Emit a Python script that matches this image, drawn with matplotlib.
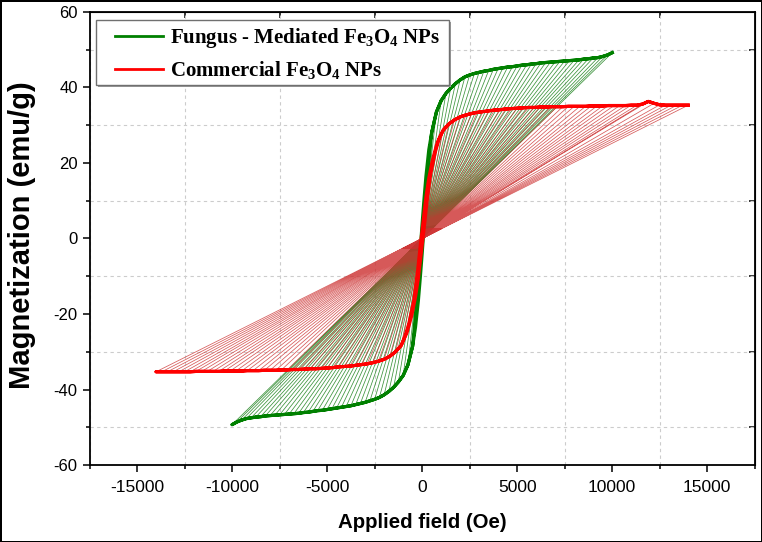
import numpy as np
import matplotlib
matplotlib.use("Agg")
import matplotlib.pyplot as plt
from matplotlib.ticker import MultipleLocator
from matplotlib.patches import Rectangle
from matplotlib.lines import Line2D

plt.rcParams['font.family'] = ['Liberation Sans', 'DejaVu Sans']
plt.rcParams['axes.unicode_minus'] = False
plt.rcParams['mathtext.fontset'] = 'custom'
plt.rcParams['mathtext.rm'] = 'Liberation Serif:bold'
plt.rcParams['mathtext.it'] = 'Liberation Serif:bold'
plt.rcParams['mathtext.bf'] = 'Liberation Serif:bold'
plt.rcParams['mathtext.default'] = 'rm'

# ---------------- data ----------------
# Fungus-mediated Fe3O4: high-field branch points (H in Oe, M in emu/g)
G_UP_H = [10000, 9750, 9500, 9250, 9000, 8750, 8500, 8250, 8000, 7750, 7500, 7250,
          7000, 6750, 6500, 6250, 6000, 5750, 5500, 5250, 5000, 4750, 4500, 4250,
          4000, 3750, 3500, 3250, 3000, 2750, 2500, 2250, 2000, 1750, 1500, 1250,
          1000, 750, 500]
G_UP_M = [49.2, 48.6, 48.2, 47.9, 47.8, 47.6, 47.5, 47.3, 47.2, 47.1, 47.0, 46.9,
          46.8, 46.7, 46.6, 46.5, 46.3, 46.2, 46.0, 45.9, 45.7, 45.5, 45.4, 45.2,
          45.0, 44.8, 44.5, 44.3, 44.0, 43.7, 43.3, 42.8, 42.0, 41.0, 39.8, 38.4,
          36.5, 33.5, 28.0]
G_LO_H = [-10000, -9750, -9500, -9250, -9000, -8750, -8500, -8250, -8000, -7750, -7500, -7250,
          -7000, -6750, -6500, -6250, -6000, -5750, -5500, -5250, -5000, -4750, -4500, -4250,
          -4000, -3750, -3500, -3250, -3000, -2750, -2500, -2250, -2000, -1750, -1500, -1250,
          -1000, -750, -500]
G_LO_M = [-49.3, -48.6, -48.1, -47.7, -47.5, -47.3, -47.2, -47.0, -46.9, -46.8, -46.7, -46.6,
          -46.5, -46.4, -46.3, -46.1, -46.0, -45.8, -45.6, -45.5, -45.3, -45.1, -44.9, -44.7,
          -44.5, -44.3, -44.0, -43.7, -43.4, -43.0, -42.6, -42.1, -41.4, -40.5, -39.4, -38.0,
          -36.3, -33.5, -28.5]
# low-field (steep) part of both branches
G_DESC_CORE_H = [350, 200, 100, 0, -100, -200, -350]
G_DESC_CORE_M = [23.5, 16.5, 10.5, 4.0, -3.0, -10.0, -20.0]
G_ASC_CORE_H = [-350, -200, -100, 0, 100, 200, 350]
G_ASC_CORE_M = [-23.5, -16.5, -10.5, -4.0, 3.0, 10.0, 20.0]
# inner ends of the fan lines (points close to the origin)
G_UP_IN_H = [-700, -683, -665, -648, -630, -613, -595, -578, -560, -543, -525, -508,
             -490, -473, -455, -438, -420, -403, -385, -368, -350, -333, -315, -298,
             -280, -263, -245, -228, -210, -193, -175, -158, -140, -123, -105, -88,
             -70, -53, -35]
G_UP_IN_M = [-3.44, -3.40, -3.37, -3.35, -3.35, -3.33, -3.33, -3.31, -3.30, -3.30, -3.29, -3.28,
             -3.28, -3.27, -3.26, -3.26, -3.24, -3.23, -3.22, -3.21, -3.20, -3.19, -3.18, -3.16,
             -3.15, -3.14, -3.12, -3.10, -3.08, -3.06, -3.03, -3.00, -2.94, -2.87, -2.79, -2.69,
             -2.56, -2.35, -1.96]
G_LO_IN_H = [700, 683, 665, 648, 630, 613, 595, 578, 560, 543, 525, 508,
             490, 473, 455, 438, 420, 403, 385, 368, 350, 333, 315, 298,
             280, 263, 245, 228, 210, 193, 175, 158, 140, 123, 105, 88,
             70, 53, 35]
G_LO_IN_M = [3.45, 3.40, 3.37, 3.34, 3.33, 3.31, 3.30, 3.29, 3.28, 3.28, 3.27, 3.26,
             3.26, 3.25, 3.24, 3.23, 3.22, 3.21, 3.19, 3.19, 3.17, 3.16, 3.14, 3.13,
             3.12, 3.10, 3.08, 3.06, 3.04, 3.01, 2.98, 2.95, 2.90, 2.84, 2.76, 2.66,
             2.54, 2.35, 2.00]

# Commercial Fe3O4
R_UP_H = [14000, 13700, 13400, 13100, 12800, 12500, 12200, 11900, 11600, 11300, 11000,
          10700, 10400, 10100, 9800, 9500, 9200, 8900, 8600, 8300, 8000, 7700, 7400,
          7100, 6800, 6500, 6200, 5900, 5600, 5300, 5000, 4700, 4400, 4100, 3800, 3500,
          3200, 2900, 2600, 2300, 2000, 1700, 1400, 1100]
R_UP_M = [35.3, 35.3, 35.3, 35.3, 35.3, 35.4, 35.8, 36.3, 35.6, 35.3, 35.3,
          35.2, 35.2, 35.2, 35.2, 35.1, 35.1, 35.1, 35.0, 35.0, 35.0, 35.0, 34.9,
          34.9, 34.9, 34.8, 34.8, 34.7, 34.7, 34.6, 34.5, 34.4, 34.3, 34.1, 34.0, 33.8,
          33.6, 33.4, 33.1, 32.7, 32.2, 31.4, 30.3, 28.6]
R_LO_H = [-14000, -13700, -13400, -13100, -12800, -12500, -12200, -11900, -11600, -11300, -11000,
          -10700, -10400, -10100, -9800, -9500, -9200, -8900, -8600, -8300, -8000, -7700, -7400,
          -7100, -6800, -6500, -6200, -5900, -5600, -5300, -5000, -4700, -4400, -4100, -3800, -3500,
          -3200, -2900, -2600, -2300, -2000, -1700, -1400, -1100]
R_LO_M = [-35.3, -35.3, -35.3, -35.3, -35.3, -35.3, -35.3, -35.2, -35.2, -35.2, -35.2,
          -35.2, -35.1, -35.1, -35.1, -35.1, -35.0, -35.0, -35.0, -34.9, -34.9, -34.9, -34.8,
          -34.8, -34.7, -34.7, -34.6, -34.5, -34.5, -34.4, -34.3, -34.2, -34.0, -33.9, -33.8, -33.6,
          -33.4, -33.2, -32.9, -32.5, -32.0, -31.2, -30.0, -28.3]
R_DESC_CORE_H = [800, 550, 350, 200, 50, -100, -250, -450, -700, -900]
R_DESC_CORE_M = [25.5, 21.0, 16.0, 11.0, 4.5, -2.0, -9.0, -16.5, -22.5, -25.8]
R_ASC_CORE_H = [-800, -550, -350, -200, -50, 100, 250, 450, 700, 900]
R_ASC_CORE_M = [-25.0, -20.5, -15.5, -10.5, -4.0, 2.5, 9.5, 17.0, 23.0, 26.5]
R_UP_IN_H = [-1036, -1014, -992, -969, -947, -925, -903, -881, -858, -836, -814,
             -792, -770, -747, -725, -703, -681, -659, -636, -614, -592, -570, -548,
             -525, -503, -481, -459, -437, -414, -392, -370, -348, -326, -303, -281, -259,
             -237, -215, -192, -170, -148, -126, -104, -81]
R_UP_IN_M = [-2.61, -2.61, -2.61, -2.61, -2.61, -2.62, -2.65, -2.69, -2.63, -2.61, -2.61,
             -2.60, -2.60, -2.60, -2.60, -2.60, -2.60, -2.60, -2.59, -2.59, -2.59, -2.59, -2.58,
             -2.58, -2.58, -2.58, -2.58, -2.57, -2.57, -2.56, -2.55, -2.55, -2.54, -2.52, -2.52, -2.50,
             -2.49, -2.47, -2.45, -2.42, -2.38, -2.32, -2.24, -2.12]
R_LO_IN_H = [1036, 1014, 992, 969, 947, 925, 903, 881, 858, 836, 814,
             792, 770, 747, 725, 703, 681, 659, 636, 614, 592, 570, 548,
             525, 503, 481, 459, 437, 414, 392, 370, 348, 326, 303, 281, 259,
             237, 215, 192, 170, 148, 126, 104, 81]
R_LO_IN_M = [2.61, 2.61, 2.61, 2.61, 2.61, 2.61, 2.61, 2.60, 2.60, 2.60, 2.60,
             2.60, 2.60, 2.60, 2.60, 2.60, 2.59, 2.59, 2.59, 2.58, 2.58, 2.58, 2.58,
             2.58, 2.57, 2.57, 2.56, 2.55, 2.55, 2.55, 2.54, 2.53, 2.52, 2.51, 2.50, 2.49,
             2.47, 2.46, 2.43, 2.41, 2.37, 2.31, 2.22, 2.09]

LABEL_G = r'Fungus - Mediated Fe$_{3}$O$_{4}$ NPs'
LABEL_R = r'Commercial Fe$_{3}$O$_{4}$ NPs'
GREEN = '#008000'
RED = '#ff0000'


def loop(up_h, up_m, lo_h, lo_m, dh, dm, ah, am):
    desc_h = list(up_h) + list(dh) + list(lo_h)[::-1]
    desc_m = list(up_m) + list(dm) + list(lo_m)[::-1]
    asc_h = list(lo_h) + list(ah) + list(up_h)[::-1]
    asc_m = list(lo_m) + list(am) + list(up_m)[::-1]
    return desc_h + asc_h, desc_m + asc_m


def fan(out_h, out_m, in_h, in_m):
    xs, ys = [], []
    for a, b, c, d in zip(out_h, out_m, in_h, in_m):
        xs += [a, c, np.nan]
        ys += [b, d, np.nan]
    return xs, ys


fig = plt.figure(figsize=(7.62, 5.42), dpi=100, edgecolor='black', linewidth=2)
ax = fig.add_axes([0.1175, 0.142, 0.873, 0.836])

# fans
for oh, om, ih, im in [(G_UP_H, G_UP_M, G_UP_IN_H, G_UP_IN_M), (G_LO_H, G_LO_M, G_LO_IN_H, G_LO_IN_M)]:
    x, y = fan(oh, om, ih, im)
    ax.plot(x, y, color='#1a801a', lw=0.55, alpha=0.85, zorder=2)
gx, gy = loop(G_UP_H, G_UP_M, G_LO_H, G_LO_M, G_DESC_CORE_H, G_DESC_CORE_M, G_ASC_CORE_H, G_ASC_CORE_M)
ax.plot(gx, gy, color=GREEN, lw=2.3, zorder=3)

for oh, om, ih, im in [(R_UP_H, R_UP_M, R_UP_IN_H, R_UP_IN_M), (R_LO_H, R_LO_M, R_LO_IN_H, R_LO_IN_M)]:
    x, y = fan(oh, om, ih, im)
    ax.plot(x, y, color='#cc3030', lw=0.55, alpha=0.8, zorder=4)
rx, ry = loop(R_UP_H, R_UP_M, R_LO_H, R_LO_M, R_DESC_CORE_H, R_DESC_CORE_M, R_ASC_CORE_H, R_ASC_CORE_M)
ax.plot(rx, ry, color=RED, lw=2.3, zorder=5)

ax.set_xlim(-17500, 17500)
ax.set_ylim(-60, 60)
ax.xaxis.set_major_locator(MultipleLocator(5000))
ax.xaxis.set_minor_locator(MultipleLocator(2500))
ax.yaxis.set_major_locator(MultipleLocator(20))
ax.yaxis.set_minor_locator(MultipleLocator(10))
ax.grid(which='minor', color='#cccccc', linestyle=(0, (3, 3)), lw=0.8, zorder=0)
ax.tick_params(which='major', direction='out', length=5, width=1.1,
               top=False, right=False)
ax.tick_params(axis='x', which='major', pad=6, labelsize=12.5)
ax.tick_params(axis='y', which='major', pad=3.5, labelsize=12)
ax.tick_params(which='minor', direction='out', length=3, width=1.1, top=False, right=False)
for s in ax.spines.values():
    s.set_linewidth(1.3)

sx = ax.secondary_xaxis('top')
sx.set_xticks([-12500, -7500, -2500, 2500, 7500, 12500])
sx.tick_params(direction='in', length=4, width=1.1, labeltop=False)
sy = ax.secondary_yaxis('right')
sy.set_yticks([-50, -30, -10, 10, 30, 50])
sy.tick_params(direction='in', length=4, width=1.1, labelright=False)

ax.set_xlabel('Applied field (Oe)', fontsize=14.7, fontweight='bold', labelpad=13)
ax.set_ylabel('Magnetization (emu/g)', fontsize=21, fontweight='bold', labelpad=11)
ax.yaxis.set_label_coords(-0.080, 0.507)

# legend frame drawn as rectangles (with a light drop shadow)
ax.add_patch(Rectangle((0.0128, 0.8345), 0.5308, 0.1435, transform=ax.transAxes,
                       facecolor='#9a9a9a', edgecolor='none', zorder=9))
ax.add_patch(Rectangle((0.0098, 0.839), 0.5308, 0.143, transform=ax.transAxes,
                       facecolor='white', edgecolor='#707070', lw=1.0, zorder=10))
handles = [Line2D([], [], color=GREEN, lw=2.0), Line2D([], [], color=RED, lw=2.0)]
leg = ax.legend(handles, [LABEL_G, LABEL_R], loc='upper left',
                bbox_to_anchor=(0.038, 0.968), borderaxespad=0, borderpad=0,
                prop={'family': 'Liberation Serif', 'weight': 'bold', 'size': 15},
                handlelength=2.3, handletextpad=0.35, labelspacing=0.42,
                frameon=False)
leg.set_zorder(11)

fig.savefig('out.png', dpi=100)
